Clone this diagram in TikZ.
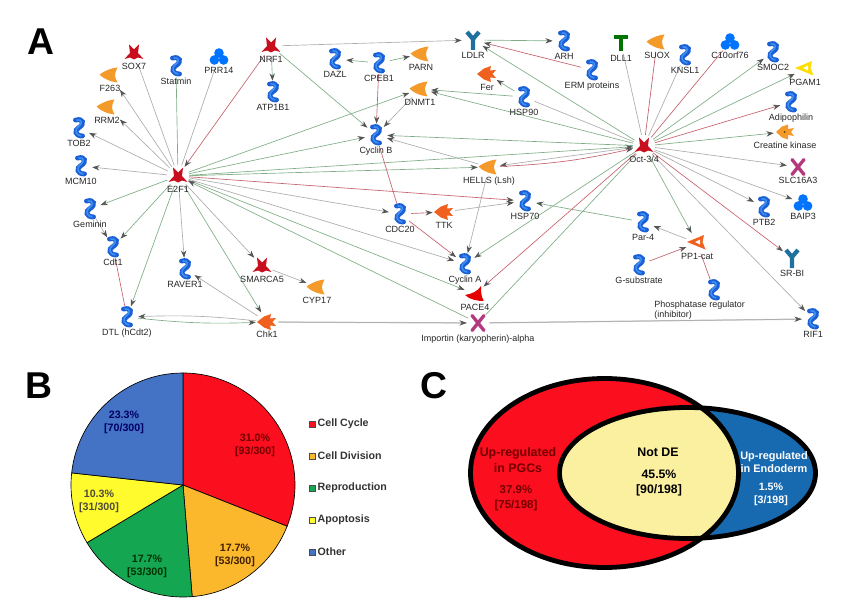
\documentclass[tikz,border=0pt]{standalone}
\usepackage{fontspec}
\setmainfont{Liberation Sans}
\usetikzlibrary{arrows.meta, positioning, backgrounds}

\definecolor{pieRed}{HTML}{FB0E1E}
\definecolor{pieOrange}{HTML}{FBB82C}
\definecolor{pieGreen}{HTML}{14A651}
\definecolor{pieYellow}{HTML}{FFFB2C}
\definecolor{pieBlue}{HTML}{4472C4}
\definecolor{edgeGreen}{HTML}{7FAE86}
\definecolor{edgeRed}{HTML}{C4626E}
\definecolor{edgeGray}{HTML}{ADADAD}
\definecolor{tipGray}{HTML}{555555}
\definecolor{zigBlue}{HTML}{1A5FD6}
\definecolor{zigLight}{HTML}{3F8FF0}
\definecolor{enzOrange}{HTML}{F39A2A}
\definecolor{fishOrange}{HTML}{F0601E}
\definecolor{starRed}{HTML}{C80F1E}
\definecolor{recepBlue}{HTML}{1F6F9F}
\definecolor{vennBlue}{HTML}{176AB0}
\definecolor{vennYellow}{HTML}{FBF0A0}

\tikzset{
 icon/.style={circle,minimum size=16.5pt,inner sep=0pt},
 zig/.style={icon,path picture={\begin{scope}[shift={(path picture bounding box.center)},line cap=round]
   \draw[zigBlue,line width=3.7pt] (-3.5,8) .. controls (4,10) and (6,4) .. (0,.5) .. controls (-5,-2) and (-4,-8) .. (3.5,-8);
   \draw[zigLight,line width=1.2pt] (-2,8) .. controls (3,9) and (4,4) .. (-1,1) .. controls (-5,-2) and (-3,-7) .. (2,-8);
  \end{scope}}},
 enz/.style={icon,path picture={\begin{scope}[shift={(path picture bounding box.center)}]
   \fill[enzOrange] (-10.5,.5) .. controls (-4,5) and (2,7) .. (7.5,7.5) .. controls (6,4) and (5,2) .. (5,0)
     .. controls (5,-2) and (6,-5) .. (7.5,-7.5) .. controls (1,-6.5) and (-5,-5) .. cycle;
  \end{scope}}},
 star/.style={icon,path picture={\begin{scope}[shift={(path picture bounding box.center)}]
   \fill[starRed] (-9.5,-6) -- (-4,0) -- (-5,8.5) -- (0,3.5) -- (5,8.5) -- (4,0) -- (9.5,-6) -- (4,-4.5) -- (0,-6.5) -- (-4,-4.5) -- cycle;
  \end{scope}}},
 recep/.style={icon,path picture={\begin{scope}[shift={(path picture bounding box.center)}]
   \draw[recepBlue,line width=3.2pt] (-6,8) -- (0,1) -- (6,8) (0,1) -- (0,-10);
  \end{scope}}},
 porter/.style={icon,path picture={\begin{scope}[shift={(path picture bounding box.center)},line cap=round]
   \draw[magenta!70!black,line width=2.5pt] (-6,7.5) -- (6,-7.5) (6,7.5) -- (-6,-7.5);
  \end{scope}}},
 ligand/.style={icon,path picture={\begin{scope}[shift={(path picture bounding box.center)}]
   \draw[green!45!black,line width=3.6pt] (-7,6) -- (7,6) (0,6) -- (0,-8);
  \end{scope}}},
 trefoil/.style={icon,path picture={\begin{scope}[shift={(path picture bounding box.center)}]
   \fill[blue!55!cyan] (0,4) circle [radius=4.8] (-4.6,-3) circle [radius=4.8] (4.6,-3) circle [radius=4.8];
  \end{scope}}},
 fish/.style={icon,path picture={\begin{scope}[shift={(path picture bounding box.center)}]
   \fill[fishOrange] (-10,0) -- (-3,5.5) -- (4,8) -- (3,3.5) -- (9,4) -- (5.5,0) -- (9,-4) -- (3,-3.5) -- (4,-8) -- (-3,-5.5) -- cycle;
  \end{scope}}},
 ring/.style={icon,path picture={\begin{scope}[shift={(path picture bounding box.center)}]
   \fill[#1] (-10,1) -- (7,8) -- (5.5,1) -- (8.5,-6.5) -- cycle;
   \fill[white] (-2,1) -- (3,3.5) -- (3,-1.5) -- cycle;
  \end{scope}}},
 fishdot/.style={icon,path picture={\begin{scope}[shift={(path picture bounding box.center)}]
   \fill[enzOrange] (-9,0) -- (-3,5.5) -- (3,7.5) -- (3,3) -- (9,4) -- (6,0) -- (9,-4) -- (3,-3) -- (3,-7.5) -- (-3,-5.5) -- cycle;
   \fill[black!60!enzOrange] (-.5,0) circle [radius=1];
  \end{scope}}},
 pace/.style={icon,path picture={\begin{scope}[shift={(path picture bounding box.center)}]
   \fill[red!90!black] (-10,-1) .. controls (-3,0) and (3,3) .. (6,8) .. controls (6,2) and (6,-3) .. (9,-7) .. controls (3,-7) and (-5,-6) .. cycle;
  \end{scope}}},
 lbl/.style={font=\fontsize{6.75}{8}\selectfont,text=black!85,inner sep=0pt,text height=5pt,text depth=1pt},
 lbls/.style={lbl,yshift=1pt},
 tip/.style={-{Stealth[length=5.5pt,width=4pt,inset=1.8pt,color=tipGray]}},
 edge line/.style={line width=.5pt},
 panel/.style={font=\fontsize{28}{28}\selectfont\bfseries,inner sep=0pt},
 pie text/.style={font=\fontsize{8}{9.6}\selectfont\bfseries,align=center,inner sep=0pt},
 slice/.style={draw=black,line width=.5pt},
 leg box/.style={draw=black!70,line width=.4pt,minimum size=4.5pt,inner sep=0pt},
 leg text/.style={font=\fontsize{8}{9}\selectfont\bfseries,text=black!80,inner sep=0pt},
 venn line/.style={draw=black,line width=3.6pt},
 venn text/.style={font=\fontsize{9.3}{11.6}\selectfont\bfseries,align=center,inner sep=0pt},
}

\begin{document}
\begin{tikzpicture}[x=.75pt,y=.75pt]
 \useasboundingbox (0,0) rectangle (860,-606);

 \node[panel] (panelA) at (41,-42) {A};
 \node[panel] (panelB) at (39,-386) {B};
 \node[panel] (panelC) at (434,-386) {C};

 % network, left half
 \node[star,label={[lbls]below:SOX7}] (SOX7) at (134,-53) {};
 \node[zig,label={[lbl]below:Statmin}] (Statmin) at (176,-66) {};
 \node[trefoil,label={[lbls,yshift=.5pt]below:PRR14}] (PRR14) at (219,-57) {};
 \node[star,label={[lbls]below:NRF1}] (NRF1) at (271,-46) {};
 \node[zig,label={[lbl]below:ATP1B1}] (ATP1B1) at (273,-92) {};
 \node[zig,label={[lbl]below:DAZL}] (DAZL) at (335,-59) {};
 \node[zig,label={[lbl]below:CPEB1}] (CPEB1) at (379,-63) {};
 \node[enz,label={[lbls]below:F263}] (F263) at (110,-75) {};
 \node[enz,label={[lbls]below:RRM2}] (RRM2) at (107,-107) {};
 \node[zig,label={[lbl]below:TOB2}] (TOB2) at (79,-128) {};
 \node[zig,label={[lbl]below:MCM10}] (MCM10) at (81,-166) {};
 \node[star,label={[lbls]below:E2F1}] (E2F1) at (178,-176) {};
 \node[zig,label={[lbl]below:Cyclin B}] (CyclinB) at (376,-135) {};
 \node[enz,label={[lbls]below:PARN}] (PARN) at (421,-54) {};
 \node[enz,label={[lbls]below:DNMT1}] (DNMT1) at (420,-89) {};
 \node[zig,label={[lbl]below:Geminin}] (Geminin) at (90,-209) {};
 \node[zig,label={[lbl]below:Cdt1}] (Cdt1) at (113,-247) {};
 \node[zig,label={[lbl]below:RAVER1}] (RAVER1) at (185,-269) {};
 \node[star,label={[lbls]below:SMARCA5}] (SMARCA5) at (262,-266) {};
 \node[enz,label={[lbls]below:CYP17}] (CYP17) at (317,-287) {};
 \node[zig,label={[lbl]below:DTL (hCdt2)}] (DTL) at (127,-317) {};
 \node[fish,label={[lbls,yshift=1pt]below:Chk1}] (Chk1) at (267,-322) {};
 \node[zig,label={[lbl]below:CDC20}] (CDC20) at (400,-214) {};
 \node[fish,label={[lbls]below:TTK}] (TTK) at (444,-212) {};

 % network, middle
 \node[recep,label={[lbl]below:LDLR}] (LDLR) at (473,-40) {};
 \node[fish,label={[lbls]below:Fer}] (Fer) at (487,-74) {};
 \node[zig,label={[lbl]below:HSP90}] (HSP90) at (524,-97) {};
 \node[zig,label={[lbl]below:ARH}] (ARH) at (564,-41) {};
 \node[zig,label={[lbl]below:ERM proteins}] (ERM) at (592,-70) {};
 \node[enz,label={[lbls]below:HELLS (Lsh)}] (HELLS) at (489,-167) {};
 \node[zig,label={[lbl]below:HSP70}] (HSP70) at (525,-201) {};
 \node[zig,label={[lbl]below:Cyclin A}] (CyclinA) at (465,-264) {};
 \node[pace,label={[lbls]below:PACE4}] (PACE4) at (475,-294) {};
 \node[porter,label={[lbl]below:Importin (karyopherin)-alpha}] (Importin) at (478,-323) {};

 % network, right half
 \node[star,label={[lbls]below:Oct-3/4}] (Oct) at (644,-146) {};
 \node[ligand,label={[lbl]below:DLL1}] (DLL1) at (621,-43) {};
 \node[enz,label={[lbls]below:SUOX}] (SUOX) at (657,-42) {};
 \node[zig,label={[lbl]below:KNSL1}] (KNSL1) at (685,-55) {};
 \node[trefoil,label={[lbls,yshift=.5pt]below:C10orf76}] (C10orf76) at (730,-42) {};
 \node[zig,label={[lbl]below:SMOC2}] (SMOC2) at (773,-52) {};
 \node[ring=yellow!80!orange,label={[lbls]below:PGAM1}] (PGAM1) at (805,-69) {};
 \node[zig,label={[lbl]below:Adipophilin}] (Adipophilin) at (791,-102) {};
 \node[fishdot,label={[lbls]below:Creatine kinase}] (Creatine) at (785,-132) {};
 \node[porter,label={[lbls]below:SLC16A3}] (SLC16A3) at (798,-167) {};
 \node[trefoil,label={[lbls,yshift=.5pt]below:BAIP3}] (BAIP3) at (803,-203) {};
 \node[zig,label={[lbl]below:PTB2}] (PTB2) at (764,-207) {};
 \node[recep,label={[lbl]below:SR-BI}] (SRBI) at (792,-258) {};
 \node[zig,label={[lbl]below:RIF1}] (RIF1) at (813,-319) {};
 \node[zig,label={[lbl]below:Par-4}] (Par4) at (643,-222) {};
 \node[ring=fishOrange,label={[lbls]below:PP1-cat}] (PP1) at (697,-243) {};
 \node[zig,label={[lbl]below:G-substrate}] (Gsub) at (639,-265) {};
 \node[zig] (Phos) at (714,-290) {};
 \node[lbl,anchor=west,align=left,text height=,text depth=,font=\fontsize{6.75}{7.5}\selectfont] (PhosLabel) at (654,-310) {Phosphatase regulator\\(inhibitor)};

 % connectors go under the icons
 \begin{scope}[on background layer]
  \foreach \s/\t in {E2F1/MCM10, E2F1/TOB2, E2F1/RAVER1, E2F1/SMARCA5, E2F1/CDC20, E2F1/CyclinA,
    SMARCA5/CYP17, DNMT1/CyclinB, HELLS/CyclinB, HELLS/CyclinA, TTK/HSP70, Chk1/RAVER1,
    NRF1/LDLR, Oct/SLC16A3, Oct/BAIP3, Oct/PTB2, Oct/RIF1, Oct/HELLS, PP1/Par4, Geminin/Cdt1} {
   \draw[edge line,edgeGray,tip] (\s) -- (\t);}
  \foreach \s/\t in {E2F1/Geminin, E2F1/Cdt1, E2F1/DTL, E2F1/Chk1, E2F1/DNMT1, E2F1/CyclinB, E2F1/HELLS,
    E2F1/Oct, E2F1/PACE4, Importin/E2F1, NRF1/ATP1B1, NRF1/CyclinB, CPEB1/DAZL, CPEB1/PARN,
    LDLR/ARH, Oct/LDLR, HSP90/Fer, HSP90/DNMT1, Oct/DNMT1, Oct/CyclinB, Oct/SMOC2, Oct/PGAM1,
    Oct/Creatine, Oct/CyclinA, Oct/PP1, Par4/HSP70} {
   \draw[edge line,edgeGreen,tip] (\s) -- (\t);}
  \foreach \s/\t in {NRF1/E2F1, E2F1/HSP70, CPEB1/CyclinB, ERM/LDLR, Oct/Adipophilin, Oct/SRBI, Oct/PACE4,
    CDC20/TTK, CDC20/CyclinA, Gsub/PP1} {
   \draw[edge line,edgeRed,tip] (\s) -- (\t);}
  % these show no arrow head
  \foreach \s/\t in {E2F1/SOX7, E2F1/PRR14, Oct/DLL1, Oct/KNSL1, Oct/HSP90} {
   \draw[edge line,edgeGray] (\s) -- (\t);}
  \foreach \s/\t in {E2F1/Statmin, Oct/Importin} {
   \draw[edge line,edgeGreen] (\s) -- (\t);}
  \foreach \s/\t in {Oct/SUOX, Oct/C10orf76, CyclinB/CDC20, DTL/Cdt1, Phos/PP1} {
   \draw[edge line,edgeRed] (\s) -- (\t);}
  \foreach \t in {F263, RRM2} {
   \draw[edge line,edgeGray,tip,shorten >=5pt] (E2F1) -- (\t);}
  \foreach \s/\t in {Chk1/Importin, Importin/RIF1} {
   \draw[line width=1pt,black!20] (\s) -- (\t);
   \draw[edge line,edgeGray,tip] (\s) -- (\t);}
  \draw[edge line,edgeRed,tip] (HELLS) to[bend right=5] (Oct);
  \draw[edge line,edgeGreen,tip] (DTL) to[bend right=4] (Chk1);
  \draw[edge line,edgeGray,tip] (Chk1) to[bend right=4] (DTL);
 \end{scope}

 % pie
 \coordinate (P) at (183,-485);
 \draw[slice,fill=pieRed] (P) -- ++(90:112) arc[start angle=90,end angle=-21.6,radius=112] -- cycle;
 \draw[slice,fill=pieOrange] (P) -- ++(-21.6:112) arc[start angle=-21.6,end angle=-85.3,radius=112] -- cycle;
 \draw[slice,fill=pieGreen] (P) -- ++(-85.3:112) arc[start angle=-85.3,end angle=-149,radius=112] -- cycle;
 \draw[slice,fill=pieYellow] (P) -- ++(-149:112) arc[start angle=-149,end angle=-186.2,radius=112] -- cycle;
 \draw[slice,fill=pieBlue] (P) -- ++(-186.2:112) arc[start angle=-186.2,end angle=-270,radius=112] -- cycle;
 \node[pie text,text=red!45!black] (pieA) at (255,-445) {31.0\%\\{}[93/300]};
 \node[pie text,text=orange!25!black] (pieB) at (235,-555) {17.7\%\\{}[53/300]};
 \node[pie text,text=green!20!black] (pieC) at (147,-566) {17.7\%\\{}[53/300]};
 \node[pie text,text=yellow!20!black] (pieD) at (99,-501) {10.3\%\\{}[31/300]};
 \node[pie text,text=blue!40!black] (pieE) at (124,-422) {23.3\%\\{}[70/300]};

 \node[leg box,fill=pieRed] (legA) at (312,-424) {};
 \node[leg box,fill=pieOrange] (legB) at (312,-456) {};
 \node[leg box,fill=pieGreen] (legC) at (312,-488) {};
 \node[leg box,fill=pieYellow] (legD) at (312,-520) {};
 \node[leg box,fill=pieBlue] (legE) at (312,-552) {};
 \node[leg text,right=1.6pt of legA] (legAtext) {Cell Cycle};
 \node[leg text,right=1.6pt of legB] (legBtext) {Cell Division};
 \node[leg text,right=1.6pt of legC] (legCtext) {Reproduction};
 \node[leg text,right=1.6pt of legD] (legDtext) {Apoptosis};
 \node[leg text,right=1.6pt of legE] (legEtext) {Other};

 % venn
 \fill[pieRed] (604.5,-473) circle [x radius=134,y radius=94.5];
 \fill[vennBlue] (687.5,-473) circle [x radius=128,y radius=65.5];
 \begin{scope}
  \clip (604.5,-473) circle [x radius=134,y radius=94.5];
  \fill[vennYellow] (687.5,-473) circle [x radius=128,y radius=65.5];
 \end{scope}
 \draw[venn line] (604.5,-473) circle [x radius=134,y radius=94.5];
 \draw[venn line] (687.5,-473) circle [x radius=128,y radius=65.5];
 \node[venn text,text=red!45!black] (vennA) at (518,-460) {Up-regulated\\in PGCs};
 \node[venn text,text=red!45!black,font=\fontsize{8.6}{11.3}\selectfont\bfseries] (vennAnum) at (516,-498.5) {37.9\%\\{}[75/198]};
 \node[venn text] (vennB) at (658,-452) {Not DE};
 \node[venn text,font=\fontsize{9.2}{11.6}\selectfont\bfseries] (vennBnum) at (659,-483) {45.5\%\\{}[90/198]};
 \node[venn text,text=white,font=\fontsize{8.2}{9.8}\selectfont\bfseries] (vennC) at (774,-462.5) {Up-regulated\\in Endoderm};
 \node[venn text,text=white,font=\fontsize{8}{9.8}\selectfont\bfseries] (vennCnum) at (771,-494.5) {1.5\%\\{}[3/198]};
\end{tikzpicture}
\end{document}
